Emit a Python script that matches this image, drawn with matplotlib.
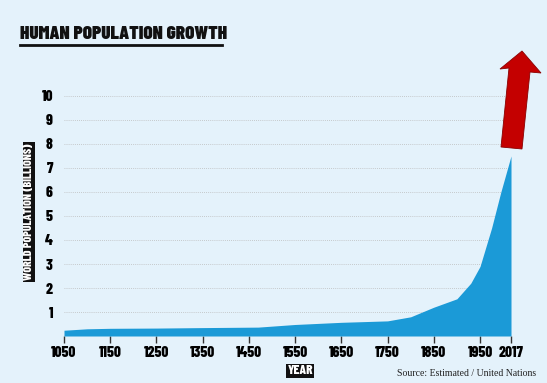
import numpy as np
import matplotlib.pyplot as plt
from matplotlib.patches import Polygon
from matplotlib.lines import Line2D

# data
years = [1050, 1100, 1150, 1250, 1350, 1470, 1550, 1650, 1750, 1800, 1850, 1900, 1930, 1950, 1975, 1995, 2017]
pop = [0.24, 0.30, 0.32, 0.33, 0.35, 0.37, 0.48, 0.57, 0.63, 0.80, 1.20, 1.55, 2.20, 2.90, 4.50, 6.00, 7.50]
xticks = [1050, 1150, 1250, 1350, 1450, 1550, 1650, 1750, 1850, 1950, 2017]
yticks = [1, 2, 3, 4, 5, 6, 7, 8, 9, 10]

bg = "#e4f2fb"
blue = "#1b9ad7"
cond = ["Barlow Condensed", "DejaVu Sans"]
wt = 800

W, H = 547, 383
fig = plt.figure(figsize=(W / 100, H / 100), dpi=100, facecolor=bg)
ax = fig.add_axes([64 / W, (H - 336) / H, (511 - 64) / W, 240 / H])
ax.set_facecolor(bg)

ax.fill_between(years, pop, 0, color=blue, lw=0, zorder=3)
ax.set_xlim(1050, 2017)
ax.set_ylim(0, 10)
ax.set_xticks(xticks)
ax.set_yticks(yticks)
ax.set_xticklabels([str(t) for t in xticks], family=cond, weight=wt, fontsize=11)
ax.set_yticklabels([str(t) for t in yticks], family=cond, weight=wt, fontsize=11)
ax.tick_params(axis="x", length=5, width=1, color="#333333", pad=2)
ax.tick_params(axis="y", length=0, pad=8)
ax.yaxis.grid(True, linestyle=(0, (1, 1.5)), color="#bcbcbc", lw=0.6, zorder=1)
for s in ax.spines.values():
    s.set_visible(False)

# title with underline
fig.text(20 / W, 1 - 34 / H, "HUMAN POPULATION GROWTH", family=cond, weight=900,
         fontsize=13.8, va="center", ha="left", color="#111111")
fig.add_artist(Line2D([20 / W, 222 / W], [1 - 45 / H, 1 - 45 / H], color="#111111", lw=2))

# axis labels on black boxes
fig.text(29 / W, 1 - 212 / H, "WORLD POPULATION (BILLIONS)", rotation=90, family=cond,
         weight=wt, fontsize=8.5, color="white", ha="center", va="center",
         bbox=dict(facecolor="#111111", edgecolor="none", pad=1.0))
fig.text(300 / W, 1 - 371 / H, "YEAR", family=cond, weight=wt, fontsize=9.5,
         color="white", ha="center", va="center",
         bbox=dict(facecolor="#111111", edgecolor="none", pad=1.0))
fig.text(536 / W, 1 - 374 / H, "Source: Estimated / United Nations", family="Liberation Serif",
         fontsize=7, color="#222222", ha="right", va="center")

# red arrow
pts = [(501, 147), (522, 149), (530, 72), (541, 73), (522, 51), (500, 69), (509, 68)]
arrow = Polygon([(x / W, 1 - y / H) for x, y in pts], closed=True, facecolor="#c40000",
                edgecolor="#8a0000", lw=0.6, transform=fig.transFigure)
fig.add_artist(arrow)

fig.savefig("out.png", dpi=100, facecolor=bg)
